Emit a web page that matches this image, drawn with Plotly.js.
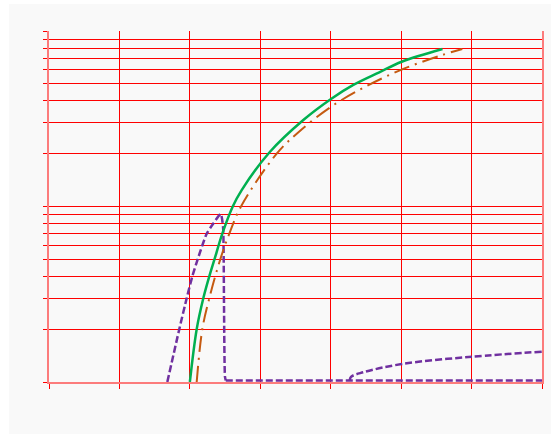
<!DOCTYPE html>
<html>
<head>
<meta charset="utf-8">
<script src="https://cdn.plot.ly/plotly-3.0.1.min.js"></script>
<style>
html,body{margin:0;padding:0;background:#ffffff;}
#chart{position:absolute;left:9px;top:4px;width:542px;height:430px;}
</style>
</head>
<body>
<div id="chart"></div>
<script>
// Green solid series
const greenX = [2.0, 2.097, 2.191, 2.276, 2.347, 2.461, 2.609, 2.736, 3.138, 3.611, 4.004, 4.321, 4.690, 5.008, 5.587];
const greenY = [1.0, 2.0, 3.0, 4.0, 4.96, 7.0, 10.0, 12.4, 20.5, 31.1, 41.0, 49.3, 58.2, 66.8, 78.9];
// Orange dash-dot series
const orangeX = [2.097, 2.177, 2.276, 2.432, 2.560, 2.726, 3.233, 3.550, 4.004, 4.511, 5.040, 5.584, 5.868];
const orangeY = [1.0, 2.0, 3.0, 5.0, 7.0, 10.0, 20.0, 26.7, 37.0, 48.6, 61.0, 73.0, 78.9];
// Purple dashed series: rise and drop
const purpleX = [1.680, 1.850, 1.955, 2.035, 2.111, 2.239, 2.333, 2.438, 2.471, 2.480, 2.485, 2.499, 2.510];
const purpleY = [1.0, 2.0, 3.0, 4.0, 5.0, 7.0, 8.0, 9.06, 7.67, 5.18, 2.69, 1.07, 1.02];
// Purple dashed series: flat floor
const purpleFlatX = [2.510, 7.0];
const purpleFlatY = [1.02, 1.02];
// Purple dashed series: second branch
const purple2X = [4.27, 4.288, 4.463, 5.008, 6.002, 6.996];
const purple2Y = [1.02, 1.07, 1.136, 1.266, 1.393, 1.489];
// Axis ticks
const xTicks = [0, 1, 2, 3, 4, 5, 6, 7];
const yTicks = [1, 2, 3, 4, 5, 6, 7, 8, 9, 10, 20, 30, 40, 50, 60, 70, 80, 90, 100];

const purpleLine = {color: '#7030a0', width: 2.5, dash: '7px,3px'};
const traces = [
  {x: purpleX, y: purpleY, mode: 'lines', line: Object.assign({shape: 'spline', smoothing: 0.6}, purpleLine)},
  {x: purpleFlatX, y: purpleFlatY, mode: 'lines', line: purpleLine},
  {x: purple2X, y: purple2Y, mode: 'lines', line: Object.assign({shape: 'spline'}, purpleLine)},
  {x: orangeX, y: orangeY, mode: 'lines', line: {color: '#c55a11', width: 2, dash: '16px,6px,2px,6px', shape: 'spline'}},
  {x: greenX, y: greenY, mode: 'lines', line: {color: '#00b050', width: 2.5, shape: 'spline'}}
];

const layout = {
  width: 542, height: 430,
  margin: {l: 40, r: 9, t: 27, b: 52},
  paper_bgcolor: '#f9f9f9',
  plot_bgcolor: '#f9f9f9',
  showlegend: false,
  xaxis: {
    range: [0, 7], tickvals: xTicks, showticklabels: false,
    showgrid: true, gridcolor: '#ff0000', gridwidth: 1, zeroline: false,
    showline: true, linecolor: 'rgba(255,0,0,0.5)', linewidth: 2,
    ticks: 'outside', ticklen: 5, tickcolor: '#ff0000', tickwidth: 1
  },
  yaxis: {
    type: 'log', range: [0, 2], tickvals: yTicks, showticklabels: false,
    showgrid: true, gridcolor: '#ff0000', gridwidth: 1, zeroline: false,
    showline: true, mirror: true, linecolor: 'rgba(255,0,0,0.5)', linewidth: 2,
    ticks: 'outside', ticklen: 4, tickcolor: '#ff0000', tickwidth: 1
  }
};

Plotly.newPlot('chart', traces, layout, {displayModeBar: false, staticPlot: true});
</script>
</body>
</html>
